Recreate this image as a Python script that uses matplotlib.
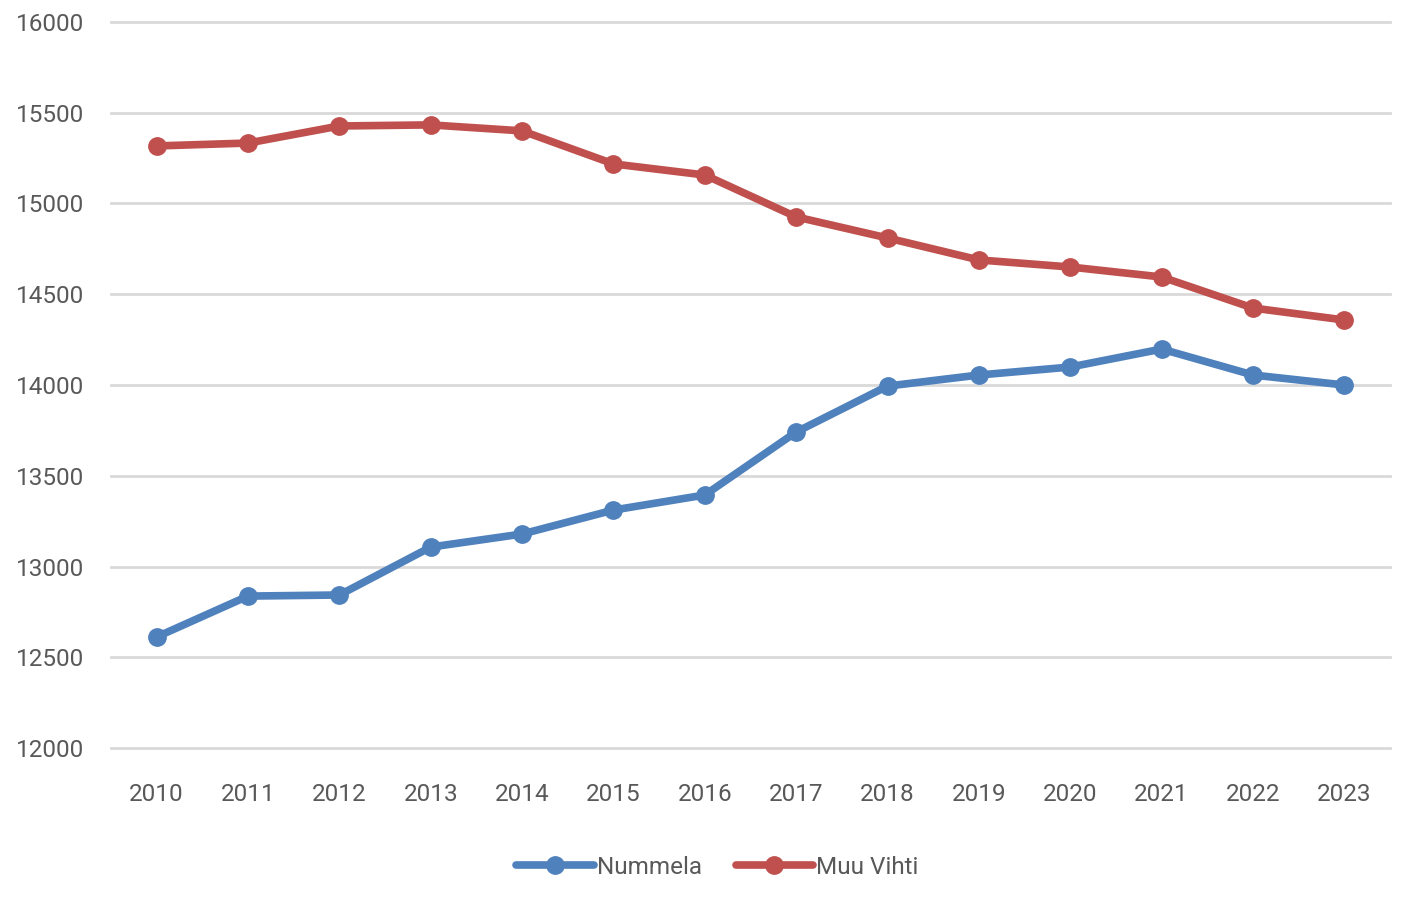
import matplotlib
matplotlib.use("Agg")
import matplotlib.pyplot as plt

years = [str(y) for y in range(2010, 2024)]
nummela = [12612, 12837, 12843, 13107, 13179, 13311, 13394,
           13741, 13994, 14055, 14099, 14198, 14055, 14000]
muu_vihti = [15317, 15333, 15427, 15433, 15400, 15218, 15157,
             14926, 14810, 14689, 14650, 14595, 14424, 14358]
y_ticks = [12000, 12500, 13000, 13500, 14000, 14500, 15000, 15500, 16000]

plt.rcParams['font.family'] = ['Roboto', 'DejaVu Sans']
text_color = '#595959'

fig = plt.figure(figsize=(14.01, 9.16), dpi=100)
ax = fig.add_axes([0.0792, 0.1834, 0.913, 0.7926])

x = list(range(len(years)))
ax.plot(x, nummela, color='#4F81BD', lw=5.5, marker='o', ms=12.5,
        solid_capstyle='round', label='Nummela', zorder=3)
ax.plot(x, muu_vihti, color='#C0504D', lw=5.5, marker='o', ms=12.5,
        solid_capstyle='round', label='Muu Vihti', zorder=3)

ax.set_xlim(-0.5, len(years) - 0.5)
ax.set_ylim(12000, 16000)
ax.set_yticks(y_ticks)
ax.set_yticklabels([str(v) for v in y_ticks])
ax.set_xticks(x)
ax.set_xticklabels(years)
ax.grid(axis='y', color='#D9D9D9', lw=2)
for gl in ax.get_ygridlines():
    gl.set_clip_on(False)
ax.set_axisbelow(True)
for s in ax.spines.values():
    s.set_visible(False)
ax.tick_params(length=0, labelsize=17.5, colors=text_color)
ax.tick_params(axis='x', pad=25)
ax.tick_params(axis='y', pad=19)

leg = ax.legend(loc='upper center', bbox_to_anchor=(0.474, -0.118), ncol=2,
                frameon=False, fontsize=17.5, handlelength=3.2,
                handletextpad=0.1, columnspacing=1.4)
for t in leg.get_texts():
    t.set_color(text_color)

fig.savefig('out.png', dpi=100, facecolor='white')
